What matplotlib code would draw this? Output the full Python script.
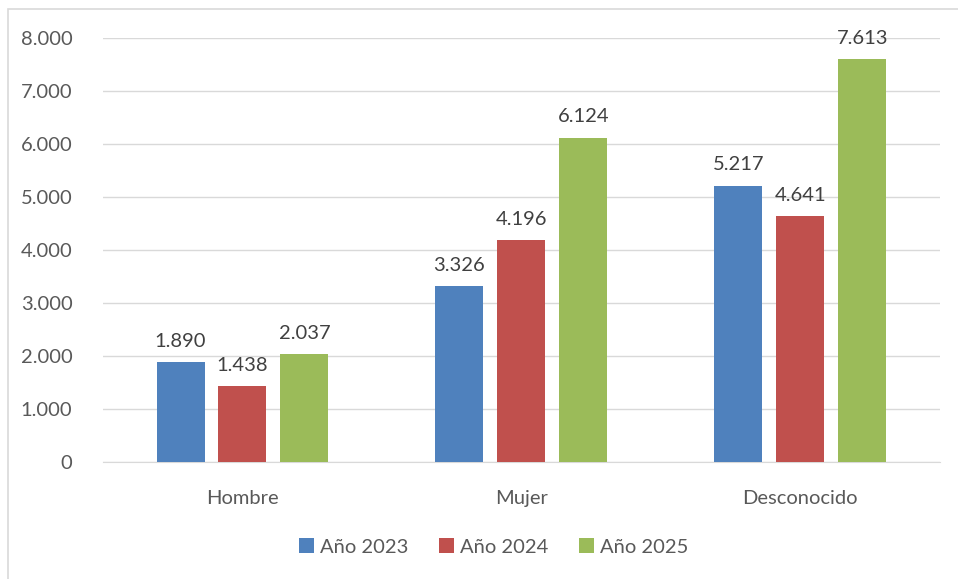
import numpy as np
import matplotlib
matplotlib.use("Agg")
import matplotlib.pyplot as plt
from matplotlib.patches import Rectangle

categories = ["Hombre", "Mujer", "Desconocido"]
series_names = ["Año 2023", "Año 2024", "Año 2025"]
values_2023 = [1890, 3326, 5217]
values_2024 = [1438, 4196, 4641]
values_2025 = [2037, 6124, 7613]
colors = ["#4F81BD", "#C0504D", "#9BBB59"]

plt.rcParams['font.family'] = ['Lato', 'DejaVu Sans']
txt = "#595959"
fs = 14.5

fig = plt.figure(figsize=(9.58, 5.79), dpi=100)
ax = fig.add_axes([0.1075, 0.202, 0.8735, 0.732])

# outer chart border
fig.add_artist(Rectangle((8 / 958, -0.01), 2, 1 - 9 / 579 + 0.01, transform=fig.transFigure,
                         fill=False, edgecolor="#D9D9D9", linewidth=1.2))

x = np.arange(len(categories))
width = 0.172
offsets = [-0.222, 0, 0.222]
for vals, name, col, off in zip([values_2023, values_2024, values_2025], series_names, colors, offsets):
    bars = ax.bar(x + off, vals, width, color=col, label=name, zorder=3)
    for b, v in zip(bars, vals):
        lbl = f"{v:,}".replace(",", ".")
        ax.text(b.get_x() + b.get_width() / 2, v + 230, lbl, ha="center", va="bottom",
                fontsize=fs, color="#404040")

ax.set_xlim(-0.5, 2.5)
ax.set_ylim(0, 8000)
ax.set_yticks(range(0, 8001, 1000))
ax.set_yticklabels(["0"] + [f"{t // 1000}.000" for t in range(1000, 8001, 1000)])
ax.set_xticks(x)
ax.set_xticklabels(categories)
ax.tick_params(axis="both", length=0, labelsize=fs, colors=txt)
ax.tick_params(axis="y", pad=22)
ax.tick_params(axis="x", pad=20)
ax.grid(axis="y", color="#D9D9D9", linewidth=1, zorder=0)
for s in ["top", "right", "left"]:
    ax.spines[s].set_visible(False)
ax.spines["bottom"].set_color("#D9D9D9")

ax.legend(loc="center", bbox_to_anchor=(0.467, -0.2), ncol=3, frameon=False,
          fontsize=fs, labelcolor=txt, handlelength=0.75, handleheight=0.75,
          handletextpad=0.3, columnspacing=1.5)

fig.savefig("out.png", dpi=100, facecolor="white")
